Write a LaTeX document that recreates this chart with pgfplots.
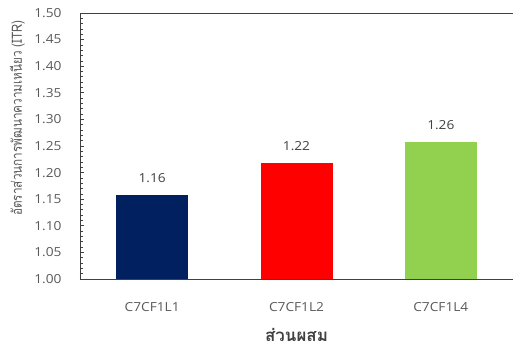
\documentclass[border=0pt]{standalone}
\usepackage{pgfplots}
\pgfplotsset{compat=1.18}
\usepackage{fontspec}
\setmainfont{Open Sans}[FakeStretch=1.1]
\newfontfamily\thaifont[Script=Thai]{Loma}
\definecolor{barnavy}{HTML}{002060}
\definecolor{barred}{HTML}{FF0000}
\definecolor{bargreen}{HTML}{92D050}
\definecolor{ticktext}{HTML}{595959}
\definecolor{valtext}{HTML}{404040}
\definecolor{frame}{HTML}{404040}
\begin{document}
\begin{tikzpicture}
\begin{axis}[
  scale only axis,
  width=433bp, height=266bp,
  xmin=-0.5, xmax=2.5,
  ymin=1, ymax=1.5,
  ybar, bar width=72bp,
  axis x line*=box, axis y line*=left,
  x axis line style={-}, y axis line style={-},
  axis line style={draw=frame, line width=0.9bp},
  xtick={0,1,2},
  xticklabels={C7CF1L1,C7CF1L2,C7CF1L4},
  major x tick style={draw=none},
  xtick pos=bottom,
  ytick={1.00,1.05,1.10,1.15,1.20,1.25,1.30,1.35,1.40,1.45,1.50},
  minor y tick num=4,
  ytick pos=left,
  tick align=inside,
  major tick length=4.5bp, minor tick length=3.5bp,
  every tick/.style={draw=frame, line width=0.7bp},
  /pgf/number format/assume math mode=true,
  yticklabel style={/pgf/number format/fixed, /pgf/number format/fixed zerofill,
    /pgf/number format/precision=2},
  yticklabel style={font=\fontsize{12.5}{14}\selectfont, text=ticktext, xshift=-15bp},
  xticklabel style={font=\fontsize{12.5}{14}\selectfont, text=ticktext, yshift=-20bp},
  xlabel={\thaifont\bfseries ส่วนผสม},
  xlabel style={at={(rel axis cs:0.5,0)}, anchor=base, yshift=-63bp,
    font=\fontsize{17}{19}\selectfont, text=valtext},
  ylabel={\thaifont อัตราส่วนการพัฒนาความเหนียว (ITR)},
  ylabel style={at={([xshift=-58bp]rel axis cs:0,0.605)}, anchor=base, yscale=1.2,
    font=\fontsize{11.8}{13}\selectfont, text=ticktext},
  nodes near coords,
  nodes near coords style={/pgf/number format/fixed, /pgf/number format/fixed zerofill,
    /pgf/number format/precision=2,
    font=\fontsize{12.5}{14}\selectfont, text=valtext, yshift=9bp},
  clip=false,
]
\addplot[fill=barnavy, draw=none, bar shift=0pt] coordinates {(0,1.157)};
\addplot[fill=barred, draw=none, bar shift=0pt] coordinates {(1,1.218)};
\addplot[fill=bargreen, draw=none, bar shift=0pt] coordinates {(2,1.258)};
\end{axis}
\pgfresetboundingbox
\path ([shift={(-80bp,-70bp)}]current axis.south west)
  rectangle ([shift={(0bp,13bp)}]current axis.north east);
\end{tikzpicture}
\end{document}
